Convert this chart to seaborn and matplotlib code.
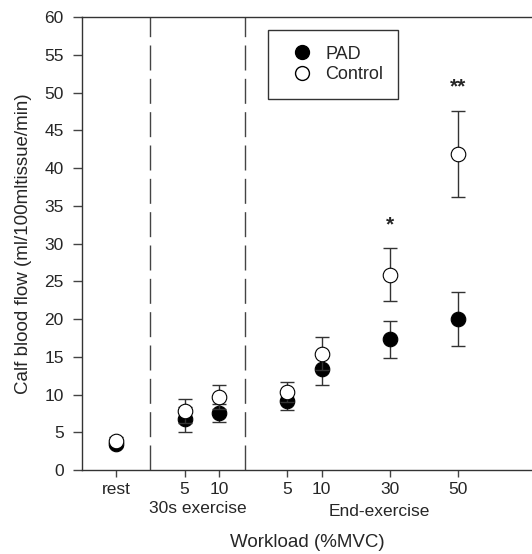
import matplotlib
matplotlib.use("Agg")
import matplotlib.pyplot as plt
import seaborn as sns
import pandas as pd
from matplotlib.lines import Line2D

# ---- data ----
positions = [0, 2, 3, 5, 6, 8, 10]
tick_labels = ["rest", "5", "10", "5", "10", "30", "50"]
pad_mean = [3.5, 6.7, 7.6, 9.2, 13.4, 17.3, 20.0]
pad_err = [0.5, 1.7, 1.2, 1.3, 2.1, 2.5, 3.6]
ctrl_mean = [3.9, 7.8, 9.7, 10.3, 15.4, 25.9, 41.9]
ctrl_err = [0.5, 1.6, 1.6, 1.3, 2.2, 3.5, 5.7]
group_labels = ["30s exercise", "End-exercise"]
group_centers = [2.4, 7.7]
group_offsets = [-0.068, -0.075]
separators = [1.0, 3.75]
sig_pos = [8, 10]
sig_text = ["*", "**"]
sig_y = [32.5, 50.8]

df = pd.DataFrame({
    "pos": positions * 2,
    "flow": pad_mean + ctrl_mean,
    "group": ["PAD"] * len(positions) + ["Control"] * len(positions),
})

sns.set_style("ticks")
plt.rcParams["font.family"] = ["Liberation Sans", "DejaVu Sans"]

fig = plt.figure(figsize=(5.32, 5.54), dpi=100)
ax = fig.add_axes([0.154, 0.1516, 0.846, 0.8174])

ecol = "#333333"
ax.errorbar(positions, pad_mean, yerr=pad_err, fmt="none", ecolor=ecol,
            elinewidth=1.0, capsize=5, capthick=1.0, zorder=2)
ax.errorbar(positions, ctrl_mean, yerr=ctrl_err, fmt="none", ecolor=ecol,
            elinewidth=1.0, capsize=5, capthick=1.0, zorder=4)
sns.scatterplot(data=df[df.group == "PAD"], x="pos", y="flow", ax=ax,
                color="black", edgecolor="black", s=110, linewidth=0.8,
                zorder=3, legend=False)
sns.scatterplot(data=df[df.group == "Control"], x="pos", y="flow", ax=ax,
                color="white", edgecolor="black", s=110, linewidth=0.8,
                zorder=5, legend=False)

for xs in separators:
    ax.axvline(xs, color="#444444", lw=1.0, linestyle=(0, (18, 6)), zorder=1)

for xp, t, yp in zip(sig_pos, sig_text, sig_y):
    ax.text(xp, yp, t, ha="center", va="center", fontsize=15, fontweight="bold")

ax.set_xlim(-1, 12.15)
ax.set_ylim(0, 60)
ax.set_yticks(range(0, 61, 5))
ax.set_xticks(positions)
ax.set_xticklabels(tick_labels)
ax.tick_params(axis="both", labelsize=12.5, width=1, color="#444444")
ax.tick_params(axis="x", length=5, pad=3.5)
ax.tick_params(axis="y", length=6.5, pad=6.5)
ax.set_xlabel("Workload (%MVC)", fontsize=13.5, labelpad=27)
ax.set_ylabel("Calf blood flow (ml/100mltissue/min)", fontsize=13.5, labelpad=9)

for gx, gl, go in zip(group_centers, group_labels, group_offsets):
    ax.text(gx, go, gl, transform=ax.get_xaxis_transform(),
            ha="center", va="top", fontsize=12.5)

for s in ["left", "bottom", "top"]:
    ax.spines[s].set_visible(True)
    ax.spines[s].set_color("#333333")
    ax.spines[s].set_linewidth(1.0)
ax.spines["right"].set_visible(False)

handles = [
    Line2D([], [], marker="o", linestyle="none", markerfacecolor="black",
           markeredgecolor="black", markersize=10, label="PAD"),
    Line2D([], [], marker="o", linestyle="none", markerfacecolor="white",
           markeredgecolor="black", markersize=10, label="Control"),
]
leg = ax.legend(handles=handles, loc="upper left", bbox_to_anchor=(0.414, 0.971),
                borderaxespad=0, frameon=True, fancybox=False, fontsize=13,
                borderpad=0.85, handletextpad=0.3, labelspacing=0.2,
                handlelength=2.0)
leg.get_frame().set_edgecolor("black")
leg.get_frame().set_linewidth(1.0)

fig.savefig("out.png", dpi=100)
